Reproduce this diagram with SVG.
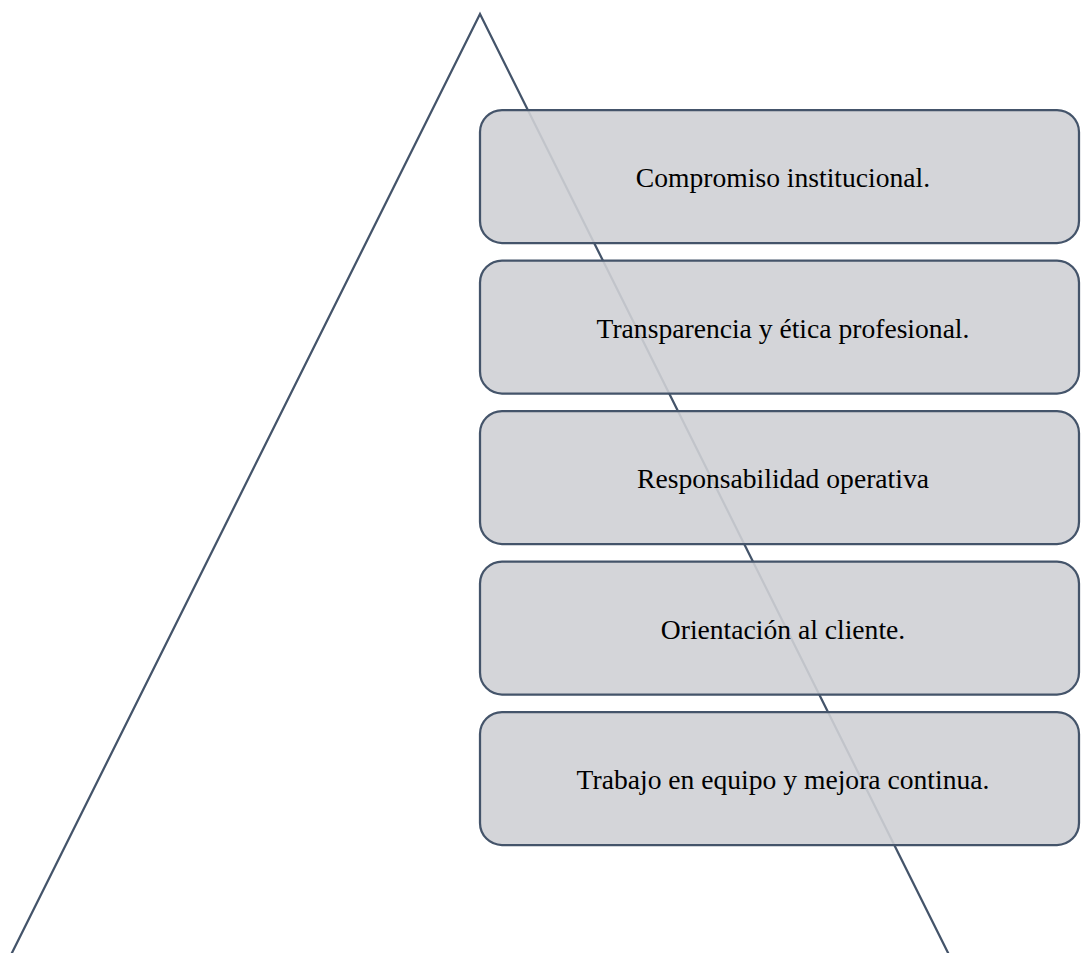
<svg xmlns="http://www.w3.org/2000/svg" width="1081" height="953" viewBox="0 0 1081 953">
<style>
.box{fill:rgb(207,208,213);fill-opacity:0.9;stroke:#44546A;stroke-width:2.25}
.lbl{font-family:"Liberation Serif","Times New Roman",serif;font-size:27.6px;fill:#000;text-anchor:middle}
.tri{fill:none;stroke:#44546A;stroke-width:2.25;stroke-linejoin:miter}
</style>
<rect width="1081" height="953" fill="#ffffff"/>
<g id="connectors">
<path class="tri" d="M8.4,960 L480,14 L951.6,960"/>
</g>
<g id="node1"><rect class="box" x="480" y="110" width="599" height="133" rx="22"/><text class="lbl" x="783" y="187">Compromiso institucional.</text></g>
<g id="node2"><rect class="box" x="480" y="260.5" width="599" height="133" rx="22"/><text class="lbl" x="783" y="337.5">Transparencia y ética profesional.</text></g>
<g id="node3"><rect class="box" x="480" y="411" width="599" height="133" rx="22"/><text class="lbl" x="783" y="488">Responsabilidad operativa</text></g>
<g id="node4"><rect class="box" x="480" y="561.5" width="599" height="133" rx="22"/><text class="lbl" x="783" y="638.5">Orientación al cliente.</text></g>
<g id="node5"><rect class="box" x="480" y="712" width="599" height="133" rx="22"/><text class="lbl" x="783" y="789">Trabajo en equipo y mejora continua.</text></g>
</svg>
